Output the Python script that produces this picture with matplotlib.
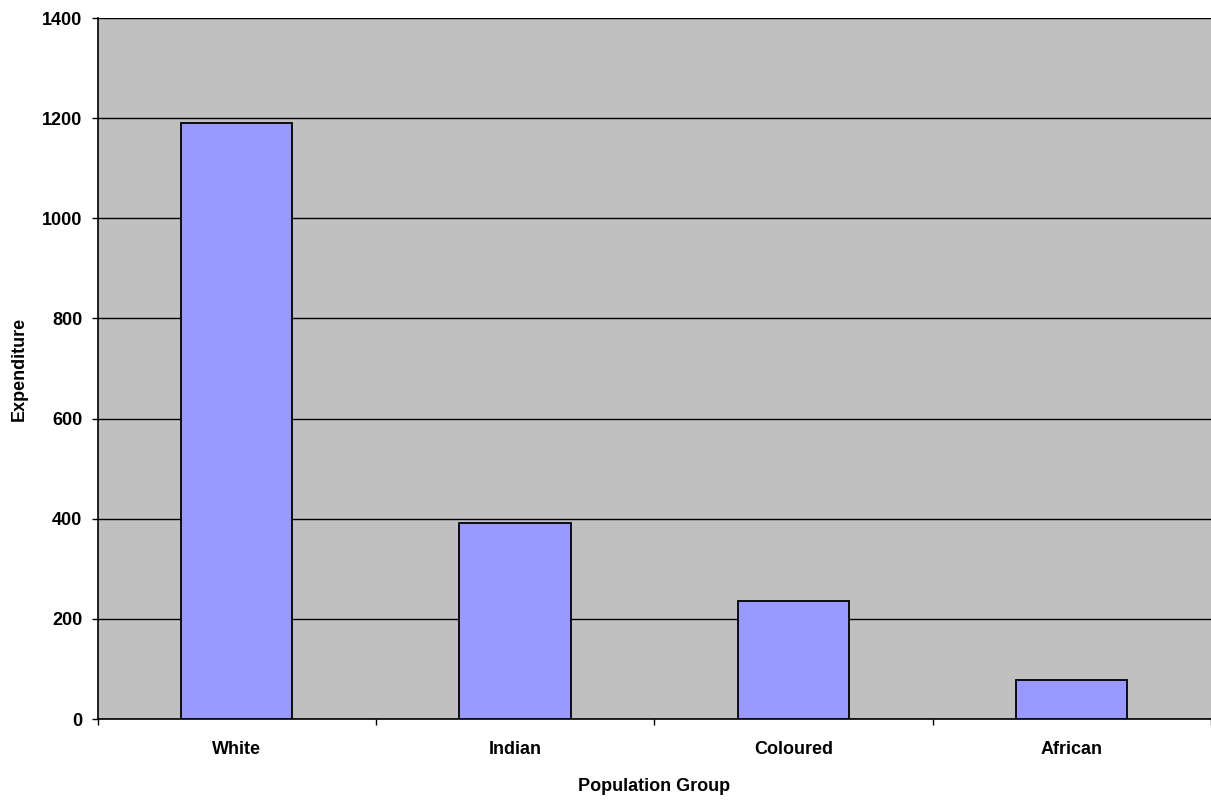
import numpy as np
import matplotlib.pyplot as plt

plt.rcParams['font.family'] = ['Liberation Sans', 'DejaVu Sans']
plt.rcParams['font.weight'] = 'bold'

groups = ["White", "Indian", "Coloured", "African"]
expenditure = [1191, 391, 236, 78]

fig = plt.figure(figsize=(12.11, 8), dpi=100)
ax = fig.add_axes([97.5 / 1211, 1 - 719 / 800, 1 - 97.5 / 1211, 701 / 800])

x = np.arange(len(groups))
ax.set_facecolor("#C0C0C0")
ax.bar(x, expenditure, width=0.4, color="#9999FF", edgecolor="black", linewidth=1.3, zorder=3)

ax.set_xlim(-0.5, len(groups) - 0.5)
ax.set_ylim(0, 1400)
ax.set_yticks(np.arange(0, 1401, 200))
ax.yaxis.grid(True, color="black", linewidth=1.0, zorder=1)
ax.set_axisbelow(True)

# ticks at category borders, labels at the centres
ax.set_xticks(np.arange(-0.5, len(groups), 1.0))
ax.set_xticklabels([])
ax.set_xticks(x, minor=True)
ax.set_xticklabels(groups, minor=True, fontsize=13, fontweight="bold")
ax.tick_params(axis="x", which="minor", length=0, pad=16)
ax.tick_params(axis="x", which="major", length=4.5, width=1, direction="out")
ax.tick_params(axis="y", length=4.5, width=1, labelsize=13, pad=6.5)
for lab in ax.get_yticklabels():
    lab.set_fontweight("bold")

for s in ["top", "right"]:
    ax.spines[s].set_visible(False)
ax.spines["left"].set_linewidth(1.2)
ax.spines["bottom"].set_linewidth(1.2)

ax.set_xlabel("Population Group", fontsize=13, fontweight="bold", labelpad=14)
ax.set_ylabel("Expenditure", fontsize=13, fontweight="bold", labelpad=10)

fig.savefig("out.png", dpi=100)
